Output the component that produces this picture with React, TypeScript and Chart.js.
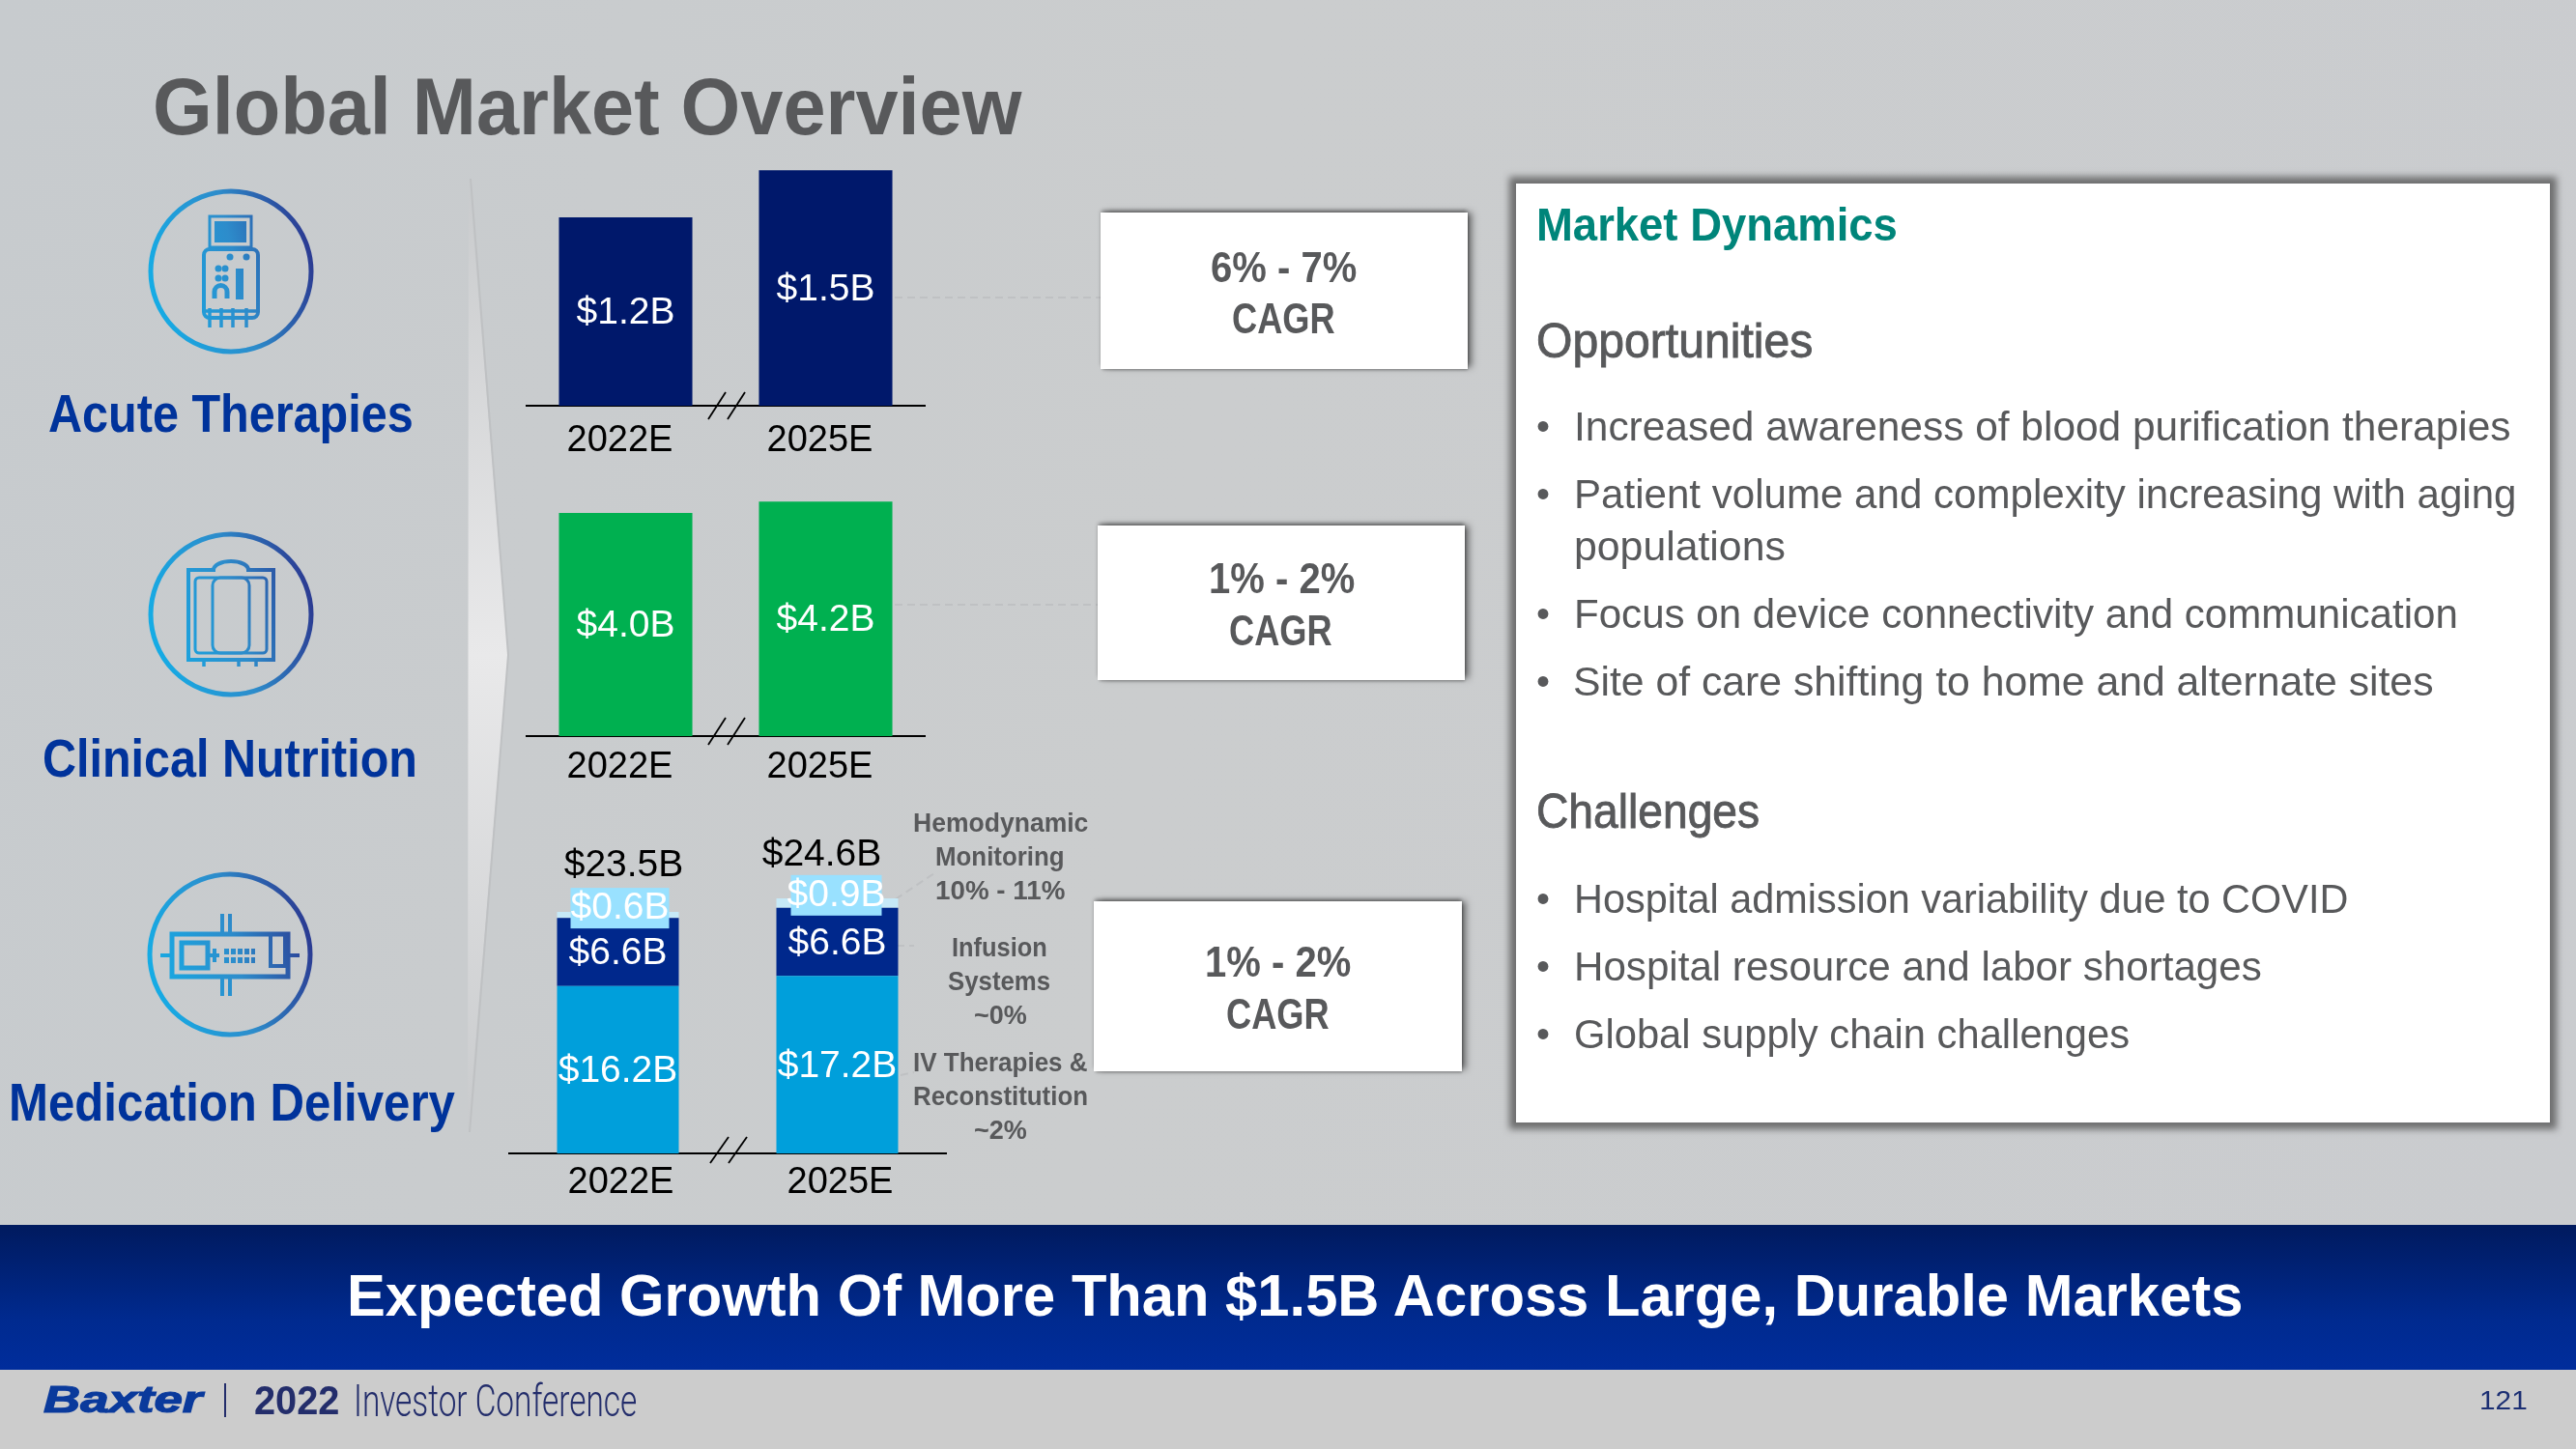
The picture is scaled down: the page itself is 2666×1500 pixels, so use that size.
import React, { useEffect, useLayoutEffect, useRef } from "react";
import { Chart, registerables } from "chart.js";

Chart.register(...registerables);

const years = ["2022E", "2025E"];
const acuteValues = [1.2, 1.5];
const nutritionValues = [4.0, 4.2];
const ivTherapies = [16.2, 17.2];
const infusionSystems = [6.6, 6.6];
const hemodynamic = [0.6, 0.9];
const medicationTotals = [23.5, 24.6];

const FONT = '"Liberation Sans", Arial, sans-serif';
const GREY = "#58595b";
const money = (v: number) => `$${v.toFixed(1)}B`;

const barLabelPlugin = {
  id: "barLabels",
  afterDatasetsDraw(chart: any) {
    const { ctx } = chart;
    ctx.save();
    ctx.font = `39px ${FONT}`;
    ctx.textAlign = "center";
    ctx.textBaseline = "middle";
    chart.data.datasets.forEach((ds: any, di: number) => {
      chart.getDatasetMeta(di).data.forEach((el: any, i: number) => {
        const cx = el.x + (ds.labelDx ? ds.labelDx[i] : 0);
        const cy = (el.y + el.base) / 2 + (ds.labelDy ? ds.labelDy[i] : 2);
        const text = money(ds.data[i]);
        if (ds.labelBg) {
          const w = ds.labelBgW[i];
          ctx.fillStyle = ds.labelBg;
          ctx.fillRect(cx - w / 2, cy - 21, w, 42);
        }
        ctx.fillStyle = "#ffffff";
        ctx.fillText(text, cx, cy);
      });
    });
    const totals = chart.options.plugins.barLabels?.totals;
    if (totals) {
      const last = chart.getDatasetMeta(chart.data.datasets.length - 1).data;
      ctx.fillStyle = "#000000";
      totals.forEach((v: number, i: number) => {
        ctx.fillText(
          money(v),
          last[i].x + chart.options.plugins.barLabels.totalDx[i],
          last[i].y - chart.options.plugins.barLabels.totalGap[i]
        );
      });
    }
    ctx.restore();
  },
};

function makeChart(
  canvas: HTMLCanvasElement,
  datasets: any[],
  yMax: number,
  barPct: number,
  tickPad: number,
  labelOffset: number,
  extra: any = {}
) {
  return new Chart(canvas, {
    type: "bar",
    data: {
      labels: years,
      datasets: datasets.map((d) => ({
        ...d,
        barPercentage: barPct,
        categoryPercentage: 1,
        borderWidth: 0,
      })),
    },
    options: {
      responsive: false,
      animation: false,
      layout: { padding: 0 },
      events: [],
      plugins: { legend: { display: false }, tooltip: { enabled: false }, barLabels: extra } as any,
      scales: {
        x: {
          stacked: true,
          afterFit: (s: any) => {
            s.height = 60;
          },
          grid: { display: false, drawTicks: false },
          border: { color: "#000000", width: 2 },
          ticks: {
            color: "#000000",
            padding: tickPad,
            labelOffset,
            font: { family: "Liberation Sans", size: 38 },
            maxRotation: 0,
          },
        },
        y: { stacked: true, display: false, min: 0, max: yMax },
      },
    },
    plugins: [barLabelPlugin],
  } as any);
}

type TP = {
  x: number;
  cy: number;
  w?: number;
  size: number;
  color?: string;
  weight?: number | string;
  italic?: boolean;
  stroke?: number;
  family?: string;
  children: React.ReactNode;
};

function T({ x, cy, w, size, color = GREY, weight = 400, italic, stroke, family = FONT, children }: TP) {
  const ref = useRef<HTMLDivElement>(null);
  useLayoutEffect(() => {
    const el = ref.current;
    if (el && w) {
      const natural = el.offsetWidth;
      el.style.transform = `translateY(-50%) scaleX(${w / natural})`;
    }
  }, [w]);
  return (
    <div
      ref={ref}
      style={{
        position: "absolute",
        left: x,
        top: cy,
        transform: "translateY(-50%)",
        transformOrigin: "left center",
        whiteSpace: "nowrap",
        fontFamily: family,
        fontSize: size,
        lineHeight: 1,
        fontWeight: weight as any,
        fontStyle: italic ? "italic" : "normal",
        color,
        WebkitTextStroke: stroke ? `${stroke}px ${color}` : undefined,
      }}
    >
      {children}
    </div>
  );
}

function Box({ l, t, r, b, shadow }: { l: number; t: number; r: number; b: number; shadow: string }) {
  return (
    <div style={{ position: "absolute", left: l, top: t, width: r - l, height: b - t, background: "#fff", boxShadow: shadow }} />
  );
}

const GLYPH = "url(#iconGrad)";
const CARD_SHADOW = "5px -1px 7px -1px rgba(0,0,0,.5), 0 -3px 4px -1px rgba(0,0,0,.4), 1px 2px 3px -1px rgba(0,0,0,.3)";

function IconShell({ cx, cy, children }: { cx: number; cy: number; children?: React.ReactNode }) {
  return (
    <g transform={`translate(${cx} ${cy})`} fill="none" stroke={GLYPH} strokeWidth={4}>
      <circle r={83} strokeWidth={5} />
      {children}
    </g>
  );
}

export default function App() {
  const c1 = useRef<HTMLCanvasElement>(null);
  const c2 = useRef<HTMLCanvasElement>(null);
  const c3 = useRef<HTMLCanvasElement>(null);

  useEffect(() => {
    document.body.style.margin = "0";
    document.body.style.overflow = "hidden";
    const charts = [
      makeChart(c1.current!, [{ data: acuteValues, backgroundColor: "#00186b" }], 1.6, 0.667, 14, -6),
      makeChart(c2.current!, [{ data: nutritionValues, backgroundColor: "#00b050" }], 4.5, 0.667, 10, -6),
      makeChart(
        c3.current!,
        [
          { data: ivTherapies, backgroundColor: "#009fdb" },
          { data: infusionSystems, backgroundColor: "#00288c", labelDx: [0, 0] },
          {
            data: hemodynamic,
            backgroundColor: "#c6e9f7",
            labelBg: "#99e1ff",
            labelBgW: [102, 94],
            labelDx: [2, -1],
            labelDy: [-7, -8],
          },
        ],
        32,
        0.555,
        8,
        3,
        { totals: medicationTotals, totalDx: [6, -16], totalGap: [48, 45] }
      ),
    ];
    return () => charts.forEach((c) => c.destroy());
  }, []);

  const bullets: [number, string, number, number][] = [
    [442, "Increased awareness of blood purification therapies", 1629, 970],
    [512, "Patient volume and complexity increasing with aging", 1629, 976],
    [636, "Focus on device connectivity and communication", 1629, 915],
    [706, "Site of care shifting to home and alternate sites", 1628, 891],
    [931, "Hospital admission variability due to COVID", 1629, 801],
    [1001, "Hospital resource and labor shortages", 1629, 712],
    [1071, "Global supply chain challenges", 1629, 575],
  ];

  return (
    <div
      style={{
        position: "absolute",
        left: 0,
        top: 0,
        width: 2666,
        height: 1500,
        overflow: "hidden",
        background: "linear-gradient(100deg,#c7cbce 0%,#cbcdce 45%,#cacccf 100%)",
      }}
    >
      <svg width={2666} height={1500} style={{ position: "absolute", left: 0, top: 0 }}>
        <defs>
          <linearGradient id="iconGrad" gradientUnits="userSpaceOnUse" x1={-84} y1={30} x2={84} y2={-10}>
            <stop offset="0" stopColor="#14ade6" />
            <stop offset="0.55" stopColor="#2d8ccb" />
            <stop offset="1" stopColor="#2b3c93" />
          </linearGradient>
          <linearGradient id="arrowGrad" x1="0" y1="0" x2="0" y2="1">
            <stop offset="0" stopColor="#c8cacc" />
            <stop offset="0.5" stopColor="#e9e9ea" />
            <stop offset="1" stopColor="#c8cacc" />
          </linearGradient>
        </defs>

        <polygon points="485,183 526,678 484,1175" fill="url(#arrowGrad)" />
        <polyline points="487,185 526,678 486,1172" fill="none" stroke="#bfc1c3" strokeWidth={2} />

        <IconShell cx={239} cy={281}>
          <rect x={-22} y={-57} width={43} height={32} strokeWidth={3} />
          <rect x={-17} y={-52} width={33} height={22} fill={GLYPH} stroke="none" />
          <rect x={-28} y={-23} width={56} height={71} rx={6} strokeWidth={4} />
          <circle cx={-13} cy={-3} r={3.5} fill={GLYPH} stroke="none" />
          <circle cx={-6} cy={-3} r={3.5} fill={GLYPH} stroke="none" />
          <circle cx={-13} cy={7} r={3.5} fill={GLYPH} stroke="none" />
          <circle cx={-6} cy={7} r={3.5} fill={GLYPH} stroke="none" />
          <circle cx={-1} cy={-15} r={3.5} fill={GLYPH} stroke="none" />
          <circle cx={16} cy={-15} r={3.5} fill={GLYPH} stroke="none" />
          <rect x={5} y={-3} width={8} height={32} fill={GLYPH} stroke="none" />
          <path d="M-17 28 v-7 a6.5 6.5 0 0 1 13 0 v7" strokeWidth={5} />
          <path d="M-22 38 v20 M-10 38 v20 M2 38 v20 M16 38 v20 M-28 41 h56" strokeWidth={3.5} />
        </IconShell>

        <IconShell cx={239} cy={636}>
          <path d="M-44 -46 h26 a18 9 0 0 1 36 0 h26 v93 h-88 z" strokeWidth={4} />
          <rect x={-37} y={-38} width={74} height={78} rx={4} strokeWidth={3} />
          <rect x={-19} y={-38} width={38} height={78} rx={8} strokeWidth={3} />
          <path d="M-28 46 v8 M8 46 v8 M26 46 v8" strokeWidth={3.5} />
        </IconShell>

        <IconShell cx={238} cy={988}>
          <rect x={-60} y={-21} width={120} height={44} strokeWidth={5} />
          <rect x={-50} y={-12} width={27} height={26} strokeWidth={5} />
          <rect x={42} y={-21} width={15} height={33} strokeWidth={4} />
          <path d="M-72 1 h12 M60 1 h12 M-8 -42 v21 M0 -42 v21 M-8 23 v20 M0 23 v20 M-23 1 h12 M-16 -6 v14" strokeWidth={4} />
          <path d="M-6 -3 h32 M-6 6 h32" strokeWidth={6} strokeDasharray="5 2" />
        </IconShell>

        <g stroke="#bfc1c3" strokeWidth={2} strokeDasharray="8 5" fill="none">
          <line x1={926} y1={308} x2={1139} y2={308} />
          <line x1={926} y1={626} x2={1136} y2={626} />
          <line x1={916} y1={938} x2={970} y2={902} />
          <line x1={915} y1={979} x2={946} y2={979} />
          <line x1={932} y1={1113} x2={946} y2={1110} />
        </g>
      </svg>

      <canvas ref={c1} width={414} height={320} style={{ position: "absolute", left: 544, top: 160, display: "block" }} />
      <canvas ref={c2} width={414} height={320} style={{ position: "absolute", left: 544, top: 502, display: "block" }} />
      <canvas ref={c3} width={454} height={402} style={{ position: "absolute", left: 526, top: 852, display: "block" }} />

      <svg width={2666} height={1500} style={{ position: "absolute", left: 0, top: 0, pointerEvents: "none" }}>
        <g stroke="#000" strokeWidth={1.8}>
          <line x1={733} y1={434} x2={751} y2={406} />
          <line x1={753} y1={434} x2={771} y2={406} />
          <line x1={733} y1={771} x2={751} y2={743} />
          <line x1={753} y1={771} x2={771} y2={743} />
          <line x1={735} y1={1204} x2={754} y2={1177} />
          <line x1={754} y1={1204} x2={773} y2={1177} />
        </g>
      </svg>

      <T x={158} cy={110} w={899} size={84} weight={700}>Global Market Overview</T>

      <T x={50} cy={428} w={378} size={56} weight={700} color="#00339b">Acute Therapies</T>
      <T x={44} cy={785} w={388} size={56} weight={700} color="#00339b">Clinical Nutrition</T>
      <T x={9} cy={1141} w={462} size={56} weight={700} color="#00339b">Medication Delivery</T>

      <T x={945} cy={852} w={181} size={28} weight={700}>Hemodynamic</T>
      <T x={968} cy={887} w={134} size={28} weight={700}>Monitoring</T>
      <T x={968} cy={922} w={134} size={28} weight={700}>10% - 11%</T>
      <T x={985} cy={981} w={99} size={28} weight={700}>Infusion</T>
      <T x={981} cy={1016} w={106} size={28} weight={700}>Systems</T>
      <T x={1008} cy={1051} w={55} size={28} weight={700}>~0%</T>
      <T x={945} cy={1100} w={181} size={28} weight={700}>IV Therapies &amp;</T>
      <T x={945} cy={1135} w={181} size={28} weight={700}>Reconstitution</T>
      <T x={1008} cy={1170} w={55} size={28} weight={700}>~2%</T>

      <Box l={1139} t={220} r={1519} b={382} shadow={CARD_SHADOW} />
      <Box l={1136} t={544} r={1516} b={704} shadow={CARD_SHADOW} />
      <Box l={1132} t={933} r={1513} b={1109} shadow={CARD_SHADOW} />

      <T x={1253} cy={277} w={151} size={44} weight={700}>6% - 7%</T>
      <T x={1275} cy={330} w={107} size={44} weight={700}>CAGR</T>
      <T x={1251} cy={599} w={151} size={44} weight={700}>1% - 2%</T>
      <T x={1272} cy={653} w={107} size={44} weight={700}>CAGR</T>
      <T x={1247} cy={996} w={151} size={44} weight={700}>1% - 2%</T>
      <T x={1269} cy={1050} w={107} size={44} weight={700}>CAGR</T>

      <Box l={1569} t={190} r={2639} b={1162} shadow="0 0 7px 7px rgba(80,80,80,.75)" />
      <T x={1590} cy={233} w={374} size={48} weight={700} color="#00857a">Market Dynamics</T>
      <T x={1590} cy={353} w={286} size={50} stroke={0.9}>Opportunities</T>
      <T x={1590} cy={840} w={231} size={50} stroke={0.9}>Challenges</T>
      {bullets.map(([cy, text, x, w]) => (
        <React.Fragment key={text}>
          <T x={1590} cy={cy - 1} size={40}>•</T>
          <T x={x} cy={cy} w={w} size={42}>{text}</T>
        </React.Fragment>
      ))}
      <T x={1629} cy={566} w={219} size={42}>populations</T>

      <div
        style={{
          position: "absolute",
          left: 0,
          top: 1268,
          width: 2666,
          height: 150,
          background: "linear-gradient(180deg,#001a5e 0%,#002a8f 65%,#002d9c 100%)",
        }}
      />
      <T x={359} cy={1341} w={1962} size={62} weight={700} color="#ffffff">
        Expected Growth Of More Than $1.5B Across Large, Durable Markets
      </T>

      <div style={{ position: "absolute", left: 0, top: 1418, width: 2666, height: 82, background: "#cccccc" }} />
      <T x={45} cy={1449} w={164} size={38} weight={700} italic stroke={1.2} color="#0a3a9c">Baxter</T>
      <div style={{ position: "absolute", left: 232, top: 1432, width: 2, height: 35, background: "#232d6b" }} />
      <T x={263} cy={1450} w={88} size={42} weight={700} color="#232d6b">2022</T>
      <T x={366} cy={1450} w={293} size={46} weight={300} family='Roboto, "Liberation Sans", sans-serif' color="#232d6b">Investor Conference</T>
      <T x={2566} cy={1450} w={50} size={28} color="#1c2f73">121</T>
    </div>
  );
}
